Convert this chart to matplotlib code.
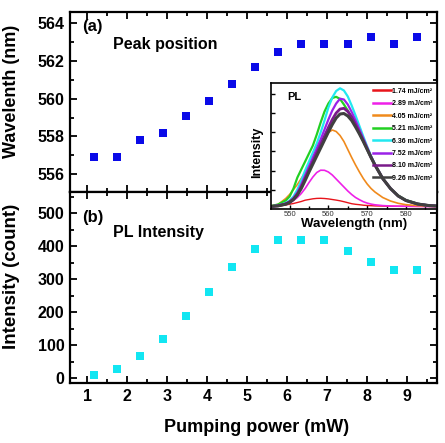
import matplotlib
matplotlib.use("Agg")
import matplotlib.pyplot as plt
from matplotlib.ticker import MultipleLocator, FixedLocator, NullFormatter

plt.rcParams['font.family'] = ['Liberation Sans', 'DejaVu Sans']
plt.rcParams['font.weight'] = 'bold'

# ---- main data ----
power = [1.17, 1.74, 2.32, 2.89, 3.47, 4.05, 4.63, 5.21, 5.79, 6.36, 6.94, 7.52, 8.10, 8.68, 9.26]
peak_wl = [556.9, 556.9, 557.8, 558.2, 559.1, 559.9, 560.8, 561.7, 562.5, 562.9, 562.9, 562.9, 563.3, 562.9, 563.3]
pl_int = [8, 26, 67, 119, 188, 262, 337, 392, 420, 420, 418, 386, 351, 328, 328]

# ---- inset spectra ----
wl = [545, 547, 549, 550, 551, 552, 553, 554, 555, 556, 557, 558, 559, 560, 561, 562,
      563, 564, 565, 566, 567, 568, 569, 570, 571, 572, 574, 576, 578, 580, 583, 586, 589]
s174 = [0, 0.3, 1.5, 2.3, 3, 4, 5, 6.3, 7, 7.7, 8.1, 8.2, 8, 7.6, 7, 6.4,
        5.7, 4.8, 3.8, 2.8, 2.2, 1.8, 1.3, 1, 0.8, 0.6, 0.4, 0.3, 0.2, 0.2, 0.1, 0, 0]
s289 = [0, 0.5, 2, 3.5, 6, 9, 13, 18, 24, 29.5, 34, 36.3, 36.2, 34.5, 31.5, 27.5,
        23.5, 19.5, 15.5, 12, 9, 6.8, 4.8, 3.4, 2.4, 1.7, 0.9, 0.5, 0.3, 0.2, 0.1, 0, 0]
s405 = [0.3, 2, 8, 12, 17, 22, 28, 34, 40.5, 47, 54, 61, 68, 74, 76.5, 75,
        71, 65, 57, 49, 41.5, 34.5, 28, 22.5, 18, 14.5, 9, 5.5, 3.2, 1.8, 0.8, 0.3, 0.1]
s521 = [0.3, 2, 6, 10, 18, 29, 37, 45, 53, 61, 72, 84, 95, 103, 108.5, 109.7,
        107.5, 102, 96, 89, 81, 73, 65, 57, 49, 41.5, 28, 18, 11, 6.5, 2.8, 1, 0.4]
s636 = [0, 1, 3.5, 6, 10, 17, 26, 36, 45, 54, 63, 74, 86, 99, 109, 115.5,
        118.2, 116, 110, 101, 91, 80.5, 70, 60, 50.5, 42, 28, 18, 10.5, 6, 2.5, 0.9, 0.3]
s752 = [0, 0.8, 3, 5, 8.5, 14, 22, 31, 40, 49, 58, 67, 77, 87, 96, 103,
        107.8, 107, 102, 94.5, 86, 77, 68, 59, 50, 42, 28, 18, 10.5, 6, 2.5, 0.9, 0.3]
s810 = [0, 0.7, 2.6, 4.5, 7.5, 12.5, 19.5, 28, 36.5, 45, 53.5, 62, 70.5, 79, 87, 93.5,
        97.5, 98.2, 95, 89.5, 82, 74, 66, 57.5, 49, 41.5, 28, 18, 10.5, 6, 2.5, 0.9, 0.3]
s926 = [0, 0.6, 2.3, 4, 7, 11.5, 18, 26, 34.5, 42.5, 50.5, 58.5, 66.5, 74.5, 82, 88.5,
        92.5, 93, 90.5, 86, 79.5, 72.5, 65, 57, 49, 41.5, 28, 18, 10.5, 6, 2.5, 0.9, 0.3]
spectra = [s174, s289, s405, s521, s636, s752, s810, s926]
spec_labels = ['1.74 mJ/cm²', '2.89 mJ/cm²', '4.05 mJ/cm²', '5.21 mJ/cm²',
               '6.36 mJ/cm²', '7.52 mJ/cm²', '8.10 mJ/cm²', '9.26 mJ/cm²']
spec_colors = ['#e8141b', '#ee20e8', '#f08a1c', '#22d022', '#22e8f0', '#9a22e8', '#7a1a8a', '#404040']
spec_lw = [1.0, 1.2, 1.2, 1.6, 1.6, 1.6, 2.0, 2.2]

W, H = 445, 443
fig = plt.figure(figsize=(W / 100, H / 100), dpi=100)

def fx(px):
    return px / W

def fy(py):
    return 1 - py / H

L, R = 70, 437
ax1 = fig.add_axes([fx(L), fy(192), fx(R - L), fy(12) - fy(192)])
ax2 = fig.add_axes([fx(L), fy(383), fx(R - L), fy(192) - fy(383)])

blue = '#0a0ae8'
cyan = '#12e6f2'
ax1.plot(power, peak_wl, 's', color=blue, ms=6, mew=0)
ax2.plot(power, pl_int, 's', color=cyan, ms=6, mew=0)

for ax in (ax1, ax2):
    ax.set_xlim(0.57, 9.76)
    ax.xaxis.set_major_locator(MultipleLocator(1))
    ax.xaxis.set_minor_locator(MultipleLocator(0.5))
    for s in ax.spines.values():
        s.set_linewidth(1.6)
    ax.tick_params(which='both', direction='in', top=True, right=True, width=1.3)
    ax.tick_params(which='major', length=5, labelsize=11.5, pad=4)
    ax.tick_params(which='minor', length=3)

ax1.set_ylim(555.05, 564.6)
ax1.yaxis.set_major_locator(MultipleLocator(2))
ax1.yaxis.set_minor_locator(MultipleLocator(1))
ax1.xaxis.set_major_formatter(NullFormatter())

ax2.set_ylim(-15, 564)
ax2.yaxis.set_major_locator(MultipleLocator(100))
ax2.yaxis.set_minor_locator(MultipleLocator(50))
ax2.set_yticks([0, 100, 200, 300, 400, 500])

ax1.set_ylabel('Wavelenth (nm)', fontsize=13, fontweight='bold')
ax1.yaxis.set_label_coords(-0.135, 0.56)
ax2.set_ylabel('Intensity (count)', fontsize=13.5, fontweight='bold')
ax2.yaxis.set_label_coords(-0.135, 0.56)
fig.text(fx(257), fy(428), 'Pumping power (mW)', fontsize=13, fontweight='bold',
         ha='center', va='center')

ax1.text(0.033, 0.922, '(a)', transform=ax1.transAxes, fontsize=12, fontweight='bold', va='center')
ax1.text(0.117, 0.818, 'Peak position', transform=ax1.transAxes, fontsize=11.5, fontweight='bold', va='center')
ax2.text(0.033, 0.868, '(b)', transform=ax2.transAxes, fontsize=12, fontweight='bold', va='center')
ax2.text(0.117, 0.787, 'PL Intensity', transform=ax2.transAxes, fontsize=11.5, fontweight='bold', va='center')

# ---- inset ----
axi = fig.add_axes([fx(271), fy(209), fx(437 - 271), fy(83) - fy(209)])
axi.set_zorder(5)
for y, lab, c, lw in zip(spectra, spec_labels, spec_colors, spec_lw):
    axi.plot(wl, y, '-', color=c, lw=lw, label=lab)
axi.set_xlim(545.2, 588)
axi.set_ylim(-2.5, 123.5)
axi.xaxis.set_major_locator(MultipleLocator(10))
axi.xaxis.set_minor_locator(MultipleLocator(5))
axi.yaxis.set_major_locator(FixedLocator([16.5, 35.8, 55.1, 74.4, 93.7, 113.0]))
axi.yaxis.set_major_formatter(NullFormatter())
for s in axi.spines.values():
    s.set_linewidth(1.2)
axi.tick_params(which='both', direction='in', width=1.0)
axi.tick_params(which='major', length=3, labelsize=5.5, pad=1.5)
axi.tick_params(which='minor', length=2)
axi.tick_params(axis='x', labelcolor='#333333')
for t in axi.get_xticklabels():
    t.set_fontweight('normal')
axi.set_xlabel('Wavelength (nm)', fontsize=9.5, fontweight='bold', labelpad=0)
fig.text(fx(257), fy(152), 'Intensity', fontsize=9, fontweight='bold',
         rotation=90, ha='center', va='center', zorder=10)
axi.text(0.095, 0.89, 'PL', transform=axi.transAxes, fontsize=8, fontweight='bold', va='center')
leg = axi.legend(loc='upper right', bbox_to_anchor=(1.0, 1.0), frameon=False,
                 prop={'size': 5, 'weight': 'bold'}, handlelength=2.6, handletextpad=0.15,
                 labelspacing=0.78, borderaxespad=0.2, borderpad=0.5)
for ln in leg.get_lines():
    ln.set_linewidth(1.8)

fig.savefig('out.png', dpi=100)
